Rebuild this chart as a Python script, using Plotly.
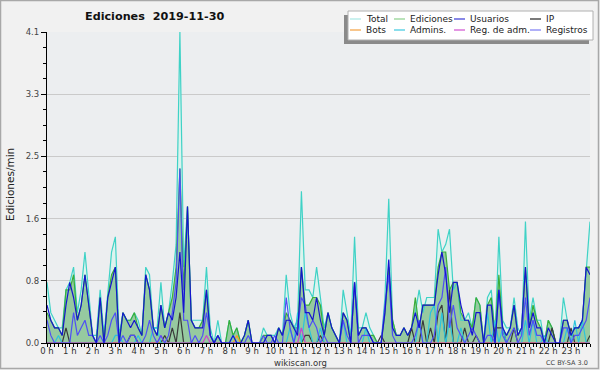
import plotly.graph_objects as go

W, H = 600, 370
ML, MR, MT, MB = 47, 10, 32, 27
PW = W - ML - MR
PH = H - MT - MB


def px(x):
    return (x - ML) / PW


def py(y):
    return (H - MB - y) / PH


# ---------------- data (edits per minute, 10-minute bins) ----------------
hour_labels = [f"{h} h" for h in range(24)]
y_tick_values = [0, 0.82, 1.64, 2.46, 3.28, 4.1]
y_tick_labels = ["0.0", "0.8", "1.6", "2.5", "3.3", "4.1"]

total = [
    0.8, 0.4, 0.3, 0.2, 0.2, 0.7, 0.8, 1.0, 0.4, 0.7, 1.2, 0.6,
    0.1, 0.1, 0.7, 0.1, 0.7, 1.2, 1.4, 0.1, 0.4, 0.3, 0.3, 0.4,
    0.3, 0.1, 1.0, 0.9, 0.2, 0.2, 0.8, 0.2, 0.4, 0.8, 1.3, 4.1,
    1.0, 1.8, 0.3, 0.3, 0.3, 0.3, 1.0, 0.2, 0.0, 0.3, 0.0, 0.0,
    0.3, 0.1, 0.2, 0.0, 0.1, 0.3, 0.0, 0.0, 0.0, 0.2, 0.1, 0.1,
    0.1, 0.2, 0.1, 0.9, 0.4, 0.2, 0.3, 2.0, 0.7, 0.7, 0.6, 1.0,
    0.6, 0.2, 0.4, 0.2, 0.1, 0.0, 0.7, 0.4, 0.1, 1.4, 0.2, 0.2,
    0.4, 0.2, 0.1, 0.0, 0.0, 0.6, 1.9, 0.3, 0.1, 0.1, 0.2, 0.1,
    0.2, 0.4, 0.7, 0.4, 0.6, 0.6, 0.6, 1.5, 1.2, 1.3, 1.5, 0.7,
    0.8, 0.3, 0.3, 0.4, 0.2, 0.6, 0.5, 0.0, 0.6, 0.7, 0.1, 1.4,
    0.3, 0.2, 0.2, 0.6, 0.2, 0.1, 1.6, 0.3, 0.6, 0.3, 0.3, 0.0,
    0.3, 0.2, 0.0, 0.0, 0.6, 0.3, 0.1, 0.2, 0.2, 0.3, 1.0, 1.6,
]
ediciones = [
    0.4, 0.3, 0.2, 0.2, 0.1, 0.7, 0.7, 0.9, 0.3, 0.5, 0.9, 0.5,
    0.1, 0.0, 0.6, 0.0, 0.6, 0.9, 1.0, 0.0, 0.4, 0.3, 0.3, 0.4,
    0.2, 0.1, 0.9, 0.7, 0.2, 0.1, 0.5, 0.2, 0.4, 0.6, 1.0, 2.3,
    0.7, 1.8, 0.3, 0.2, 0.2, 0.3, 0.7, 0.1, 0.0, 0.1, 0.0, 0.0,
    0.3, 0.1, 0.2, 0.0, 0.1, 0.3, 0.0, 0.0, 0.0, 0.1, 0.1, 0.1,
    0.0, 0.2, 0.1, 0.4, 0.3, 0.2, 0.2, 1.0, 0.5, 0.5, 0.6, 0.6,
    0.5, 0.1, 0.4, 0.2, 0.1, 0.0, 0.4, 0.3, 0.0, 0.8, 0.1, 0.2,
    0.2, 0.1, 0.1, 0.0, 0.0, 0.4, 1.0, 0.3, 0.1, 0.1, 0.2, 0.1,
    0.2, 0.6, 0.2, 0.5, 0.5, 0.5, 0.5, 1.0, 1.2, 1.2, 0.7, 0.8,
    0.8, 0.4, 0.3, 0.3, 0.2, 0.6, 0.5, 0.0, 0.5, 0.6, 0.1, 0.9,
    0.2, 0.1, 0.2, 0.5, 0.1, 0.2, 1.0, 0.2, 0.5, 0.3, 0.2, 0.0,
    0.3, 0.2, 0.0, 0.0, 0.3, 0.3, 0.1, 0.2, 0.2, 0.3, 1.0, 1.0,
]
usuarios = [
    0.5, 0.3, 0.2, 0.2, 0.1, 0.5, 0.8, 0.6, 0.3, 0.5, 0.9, 0.5,
    0.1, 0.0, 0.6, 0.0, 0.6, 0.8, 1.0, 0.0, 0.4, 0.3, 0.2, 0.3,
    0.2, 0.1, 0.9, 0.7, 0.2, 0.1, 0.5, 0.2, 0.4, 0.3, 0.6, 1.2,
    0.4, 1.8, 0.3, 0.2, 0.2, 0.2, 0.7, 0.1, 0.0, 0.1, 0.0, 0.0,
    0.0, 0.1, 0.0, 0.0, 0.1, 0.3, 0.0, 0.0, 0.0, 0.0, 0.1, 0.1,
    0.0, 0.2, 0.1, 0.3, 0.3, 0.2, 0.1, 1.0, 0.4, 0.4, 0.3, 0.6,
    0.3, 0.1, 0.4, 0.2, 0.1, 0.0, 0.4, 0.3, 0.0, 0.8, 0.1, 0.2,
    0.2, 0.1, 0.0, 0.0, 0.0, 0.4, 1.1, 0.2, 0.1, 0.1, 0.2, 0.1,
    0.2, 0.4, 0.2, 0.5, 0.5, 0.5, 0.5, 0.9, 1.2, 0.9, 0.4, 0.8,
    0.8, 0.5, 0.3, 0.3, 0.1, 0.4, 0.4, 0.0, 0.5, 0.5, 0.0, 0.7,
    0.2, 0.1, 0.2, 0.5, 0.1, 0.2, 1.0, 0.2, 0.4, 0.2, 0.2, 0.0,
    0.2, 0.1, 0.0, 0.0, 0.3, 0.3, 0.1, 0.2, 0.2, 0.3, 1.0, 0.9,
]
ip = [
    0.0, 0.0, 0.0, 0.0, 0.0, 0.2, 0.0, 0.0, 0.0, 0.0, 0.0, 0.0,
    0.0, 0.0, 0.0, 0.0, 0.0, 0.0, 0.0, 0.0, 0.0, 0.0, 0.1, 0.1,
    0.0, 0.0, 0.0, 0.0, 0.0, 0.0, 0.0, 0.1, 0.0, 0.2, 0.0, 0.4,
    0.0, 0.0, 0.0, 0.0, 0.0, 0.0, 0.0, 0.0, 0.0, 0.0, 0.0, 0.0,
    0.0, 0.0, 0.0, 0.0, 0.0, 0.0, 0.0, 0.0, 0.0, 0.0, 0.0, 0.0,
    0.0, 0.0, 0.0, 0.0, 0.0, 0.0, 0.0, 0.0, 0.1, 0.1, 0.0, 0.0,
    0.1, 0.0, 0.0, 0.0, 0.0, 0.0, 0.0, 0.0, 0.0, 0.0, 0.0, 0.0,
    0.0, 0.0, 0.0, 0.0, 0.1, 0.0, 0.0, 0.0, 0.0, 0.0, 0.0, 0.0,
    0.2, 0.0, 0.0, 0.3, 0.0, 0.2, 0.0, 0.4, 0.5, 0.0, 0.7, 0.0,
    0.0, 0.0, 0.2, 0.0, 0.0, 0.1, 0.0, 0.0, 0.0, 0.0, 0.2, 0.2,
    0.2, 0.0, 0.0, 0.2, 0.0, 0.0, 0.0, 0.0, 0.0, 0.0, 0.0, 0.0,
    0.0, 0.2, 0.0, 0.0, 0.0, 0.0, 0.2, 0.0, 0.0, 0.0, 0.0, 0.1,
]
bots = [0.0] * 50 + [0.1] + [0.0] * 93
admins = [
    0.0, 0.0, 0.0, 0.1, 0.0, 0.0, 0.0, 0.0, 0.0, 0.0, 0.0, 0.0,
    0.0, 0.0, 0.0, 0.0, 0.0, 0.0, 0.1, 0.1, 0.0, 0.0, 0.0, 0.0,
    0.1, 0.0, 0.0, 0.0, 0.2, 0.2, 0.0, 0.0, 0.0, 0.0, 0.0, 0.0,
    0.0, 0.0, 0.0, 0.0, 0.0, 0.0, 0.0, 0.0, 0.0, 0.0, 0.0, 0.0,
    0.0, 0.1, 0.0, 0.0, 0.0, 0.0, 0.0, 0.0, 0.0, 0.0, 0.0, 0.0,
    0.0, 0.0, 0.0, 0.0, 0.2, 0.0, 0.4, 0.0, 0.4, 0.2, 0.0, 0.0,
    0.2, 0.0, 0.0, 0.0, 0.0, 0.0, 0.3, 0.0, 0.0, 0.0, 0.0, 0.0,
    0.2, 0.0, 0.0, 0.0, 0.0, 0.0, 0.0, 0.0, 0.0, 0.0, 0.0, 0.0,
    0.0, 0.0, 0.3, 0.0, 0.0, 0.4, 0.5, 0.0, 0.4, 0.0, 0.3, 0.0,
    0.0, 0.2, 0.0, 0.0, 0.0, 0.0, 0.0, 0.0, 0.4, 0.0, 0.3, 0.0,
    0.2, 0.0, 0.0, 0.0, 0.0, 0.0, 0.3, 0.0, 0.3, 0.0, 0.0, 0.1,
    0.0, 0.0, 0.0, 0.0, 0.0, 0.2, 0.0, 0.3, 0.0, 0.3, 0.0, 0.0,
]
reg_adm = [0.0] * 144
reg_adm[30] = 0.1
reg_adm[42] = 0.1
reg_adm[67] = 0.2
registros = [
    0.3, 0.1, 0.0, 0.0, 0.0, 0.0, 0.0, 0.4, 0.1, 0.2, 0.3, 0.1,
    0.1, 0.0, 0.1, 0.0, 0.1, 0.3, 0.4, 0.0, 0.1, 0.0, 0.1, 0.1,
    0.0, 0.0, 0.1, 0.3, 0.1, 0.0, 0.1, 0.0, 0.1, 0.4, 0.8, 2.3,
    0.3, 0.3, 0.0, 0.1, 0.0, 0.1, 0.4, 0.1, 0.0, 0.1, 0.0, 0.0,
    0.0, 0.0, 0.0, 0.0, 0.0, 0.1, 0.0, 0.0, 0.0, 0.1, 0.0, 0.0,
    0.1, 0.0, 0.0, 0.6, 0.2, 0.0, 0.2, 0.6, 0.5, 0.2, 0.3, 0.2,
    0.0, 0.1, 0.0, 0.0, 0.0, 0.0, 0.3, 0.1, 0.0, 0.8, 0.0, 0.1,
    0.1, 0.1, 0.0, 0.0, 0.0, 0.5, 0.9, 0.1, 0.0, 0.0, 0.0, 0.0,
    0.0, 0.1, 0.3, 0.0, 0.0, 0.0, 0.1, 0.5, 0.6, 1.0, 0.2, 0.5,
    0.2, 0.1, 0.0, 0.1, 0.2, 0.1, 0.0, 0.0, 0.1, 0.1, 0.0, 0.7,
    0.1, 0.0, 0.1, 0.2, 0.0, 0.1, 0.6, 0.1, 0.3, 0.1, 0.1, 0.0,
    0.0, 0.0, 0.0, 0.0, 0.2, 0.2, 0.0, 0.1, 0.1, 0.2, 0.3, 0.6,
]

x = [i / 6 for i in range(len(total))]

FONT = "DejaVu Sans"

fig = go.Figure()

# filled areas
fig.add_trace(go.Scatter(x=x, y=total, mode="none", fill="tozeroy",
                         fillcolor="#dcf3ee", hoverinfo="skip"))
fig.add_trace(go.Scatter(x=x, y=ediciones, mode="none", fill="tozeroy",
                         fillcolor="rgba(79,161,82,0.5)", hoverinfo="skip"))

series = [
    ("Total", total, "#3fd2c6"),
    ("Ediciones", ediciones, "#3aae3a"),
    ("IP", ip, "#3a3a3a"),
    ("Bots", bots, "#ff9a1a"),
    ("Admins.", admins, "#2cc4dc"),
    ("Reg. de adm.", reg_adm, "#cc44cc"),
    ("Registros", registros, "#4f4ff5"),
    ("Usuarios", usuarios, "#1515d0"),
]
for name, vals, col in series:
    fig.add_trace(go.Scatter(x=x, y=vals, mode="lines", name=name,
                             line=dict(color=col, width=1.2)))

shapes = []
annotations = []

# page border
shapes.append(dict(type="rect", xref="paper", yref="paper",
                   x0=px(0.5), x1=px(598.5), y0=py(0.5), y1=py(368.5),
                   line=dict(color="#a8a8a8", width=1.5), layer="below"))

# legend (shadow, box, swatches, labels)
shapes.append(dict(type="rect", xref="paper", yref="paper",
                   x0=px(344), x1=px(589), y0=py(15), y1=py(44),
                   fillcolor="#8a8a8a", line=dict(width=0), layer="above"))
shapes.append(dict(type="rect", xref="paper", yref="paper",
                   x0=px(348), x1=px(593), y0=py(11), y1=py(40),
                   fillcolor="#ffffff", line=dict(color="#b0b0b0", width=1),
                   layer="above"))

legend_items = [
    ("Total", "#a8e8e4", 348, 19),
    ("Ediciones", "#8cd08c", 392, 19),
    ("Usuarios", "#3a3ad8", 452, 19),
    ("IP", "#222222", 528, 19),
    ("Bots", "#f4a040", 348, 30),
    ("Admins.", "#3cc8e0", 392, 30),
    ("Reg. de adm.", "#d050d0", 452, 30),
    ("Registros", "#7c7cf4", 528, 30),
]
for label, col, lx, ly in legend_items:
    shapes.append(dict(type="line", xref="paper", yref="paper",
                       x0=px(lx + 2), x1=px(lx + 13), y0=py(ly), y1=py(ly),
                       line=dict(color=col, width=1.2), layer="above"))
    annotations.append(dict(text=label, xref="paper", yref="paper",
                            x=px(lx + 16), y=py(ly), xanchor="left",
                            yanchor="middle", showarrow=False,
                            font=dict(family=FONT, size=9, color="#222")))

# title
annotations.append(dict(text="<b>Ediciones  2019-11-30</b>", xref="paper",
                        yref="paper", x=px(154), y=py(16), xanchor="center",
                        yanchor="middle", showarrow=False,
                        font=dict(family=FONT, size=11.2, color="#111")))
# y-axis title
annotations.append(dict(text="Ediciones/min", xref="paper", yref="paper",
                        x=px(10), y=py(185), xanchor="center",
                        yanchor="middle", textangle=-90, showarrow=False,
                        font=dict(family=FONT, size=10.5, color="#222")))
# footer texts
annotations.append(dict(text="wikiscan.org", xref="paper", yref="paper",
                        x=px(300), y=py(362.5), xanchor="center",
                        yanchor="middle", showarrow=False,
                        font=dict(family=FONT, size=8.5, color="#333")))
annotations.append(dict(text="CC BY-SA 3.0", xref="paper", yref="paper",
                        x=px(590), y=py(362.5), xanchor="right",
                        yanchor="middle", showarrow=False,
                        font=dict(family=FONT, size=6.5, color="#444")))

minor_y = []
for k in range(5):
    for j in range(1, 4):
        minor_y.append(y_tick_values[k] + j * (y_tick_values[1] / 4))

fig.update_layout(
    width=W, height=H, autosize=False,
    margin=dict(l=ML, r=MR, t=MT, b=MB, pad=0),
    paper_bgcolor="#f1f1f1", plot_bgcolor="#eceef0",
    showlegend=False,
    shapes=shapes, annotations=annotations,
    font=dict(family=FONT, size=9, color="#333"),
)
fig.update_xaxes(
    range=[0, x[-1]], tickmode="array", tickvals=list(range(24)),
    ticktext=hour_labels, ticks="outside", ticklen=3, tickwidth=1,
    tickcolor="#000", showline=True, linecolor="#000", linewidth=1.2,
    showgrid=False, zeroline=False, ticklabelstandoff=-3,
    tickfont=dict(family=FONT, size=8.5, color="#333"),
    minor=dict(dtick=1 / 6, tick0=0, ticks="outside", ticklen=3,
               tickcolor="#000", tickwidth=1, showgrid=False),
)
fig.update_yaxes(
    range=[0, 4.1], tickmode="array", tickvals=y_tick_values,
    ticktext=y_tick_labels, ticks="outside", ticklen=5, tickwidth=1,
    tickcolor="#000", showline=True, linecolor="#000", linewidth=1.2,
    showgrid=True, gridcolor="#cacaca", gridwidth=1, zeroline=False,
    tickfont=dict(family=FONT, size=8.5, color="#444"),
    minor=dict(tickvals=minor_y, ticks="outside", ticklen=3,
               tickcolor="#000", tickwidth=1, showgrid=False),
)

fig.write_html("out.html", config={"displayModeBar": False})
